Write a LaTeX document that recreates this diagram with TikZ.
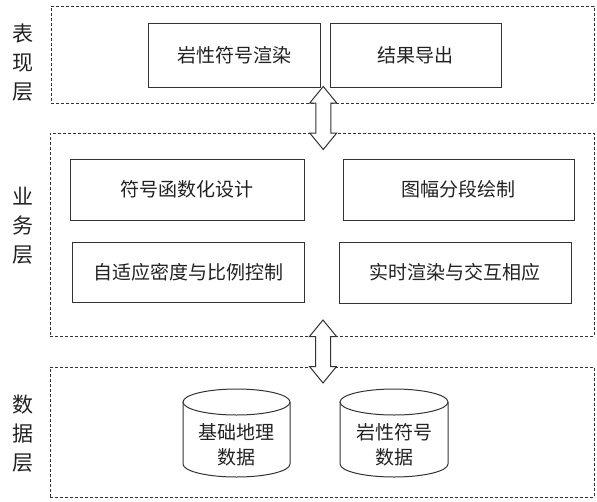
\documentclass[tikz,border=0pt]{standalone}
\usepackage{fontspec}
\newfontfamily\cjk{Noto Sans CJK SC}
\usetikzlibrary{calc}
\definecolor{linec}{HTML}{333333}
\definecolor{textc}{HTML}{222222}
\tikzset{
  layerbox/.style={draw=linec, line width=0.9pt, dash pattern=on 3pt off 2pt, minimum width=#1, inner sep=0pt},
  modbox/.style={draw=linec, line width=1pt, fill=white, inner sep=0pt, font=\cjk\fontsize{19}{19}\selectfont, text=textc},
  layerlabel/.style={align=center, inner sep=0pt, text=textc, font=\cjk\fontsize{21}{29}\selectfont},
  dbtext/.style={align=center, inner sep=0pt, text=textc, font=\cjk\fontsize{19}{25}\selectfont},
  cylline/.style={draw=linec, line width=1pt},
  blockarrow/.style={draw=linec, line width=1pt, fill=white}
}
\newcommand{\dblarrow}[1]{%
  \draw[blockarrow] ($(#1)+(0,-31.5)$) -- ($(#1)+(13.5,-15)$) -- ($(#1)+(7.5,-15)$) -- ($(#1)+(7.5,15)$) -- ($(#1)+(13.5,15)$) -- ($(#1)+(0,31.5)$) -- ($(#1)+(-13.5,15)$) -- ($(#1)+(-7.5,15)$) -- ($(#1)+(-7.5,-15)$) -- ($(#1)+(-13.5,-15)$) -- cycle;}
\newcommand{\cylinder}[4]{% name, cx, rx, label
  \draw[cylline] (#2-#3,402) -- (#2-#3,464) arc[start angle=180, end angle=0, x radius=#3, y radius=13] -- (#2+#3,402);
  \draw[cylline] (#2,402) ellipse[x radius=#3, y radius=13];
  \node[dbtext] (#1) at (#2,444.5) {#4};}
\begin{document}
\begin{tikzpicture}[x=1pt,y=-1pt]
\useasboundingbox (0,0) rectangle (597,501);
% layers
\node[layerbox=543pt, minimum height=97pt] (top) at (322.5,54.5) {};
\node[layerbox=544pt, minimum height=203pt] (mid) at (322,234.5) {};
\node[layerbox=544pt, minimum height=130pt] (bot) at (322,432) {};
% labels
\node[layerlabel] (ltop) at (23,63) {表\\现\\层};
\node[layerlabel] (lmid) at (23,226) {业\\务\\层};
\node[layerlabel] (lbot) at (23,433.5) {数\\据\\层};
% presentation layer
\node[modbox, minimum width=172pt, minimum height=64pt] (b1) at (234,55) {岩性符号渲染};
\node[modbox, minimum width=171pt, minimum height=64pt] (b2) at (415.5,55) {结果导出};
% business layer
\node[modbox, minimum width=234pt, minimum height=61pt] (c1) at (187,189.5) {符号函数化设计};
\node[modbox, minimum width=231pt, minimum height=61pt] (c2) at (458.5,189.5) {图幅分段绘制};
\node[modbox, minimum width=232pt, minimum height=60pt] (c3) at (188,272) {自适应密度与比例控制};
\node[modbox, minimum width=232pt, minimum height=61pt] (c4) at (455,272.5) {实时渲染与交互相应};
% data layer
\cylinder{d1}{236.5}{53.5}{基础地理\\数据}
\cylinder{d2}{394}{54}{岩性符号\\数据}
% arrows
\coordinate (a1) at ($(top.south)!0.5!(mid.north)+(1,0)$);
\coordinate (a2) at ($(mid.south)!0.5!(bot.north)+(1,0)$);
\dblarrow{a1}
\dblarrow{a2}
\end{tikzpicture}
\end{document}
